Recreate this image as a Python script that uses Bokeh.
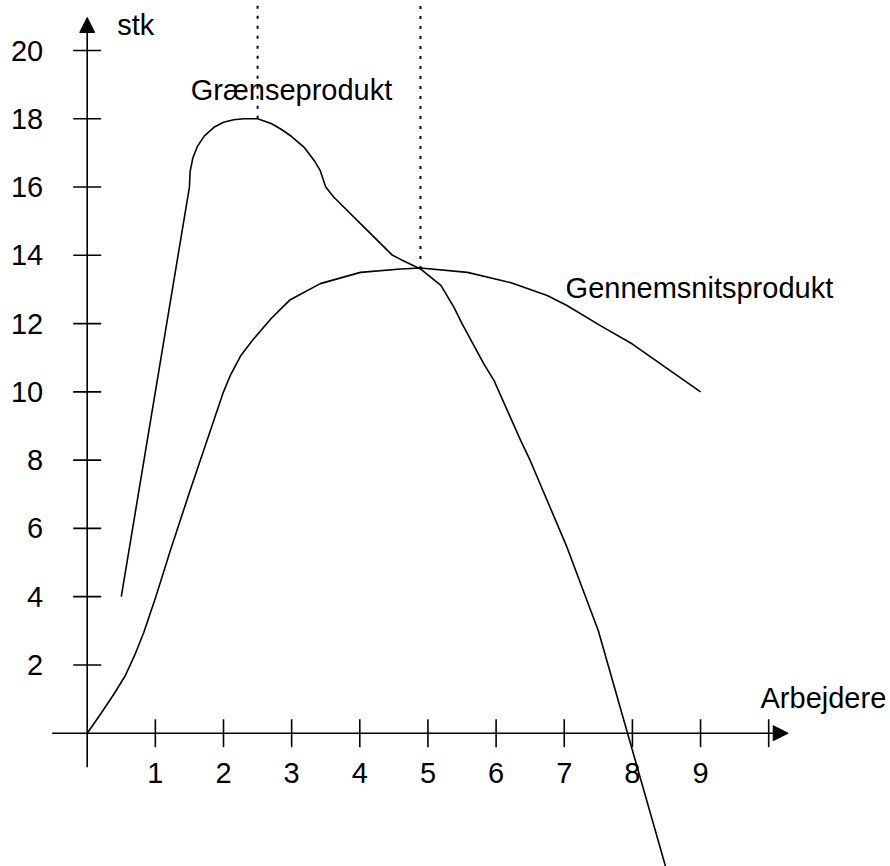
import math
from bokeh.plotting import figure
from bokeh.models import Range1d, Arrow, NormalHead
from bokeh.embed import file_html
from bokeh.resources import INLINE
from bokeh.core.properties import value

# ---------------- data ----------------
# Grænseprodukt (marginal product)
mp_x = [0.5, 1.5, 1.51, 1.55, 1.62, 1.72, 1.86, 2.0, 2.15, 2.3, 2.5, 2.7, 2.84, 3.0, 3.18, 3.33, 3.42,
        3.5, 3.62, 4.11, 4.48, 4.6, 4.89, 5.19, 5.38, 5.5, 5.82, 5.97, 6.36, 6.5, 7.04, 7.5, 8.5]
mp_y = [4.0, 16.0, 16.45, 16.85, 17.2, 17.5, 17.75, 17.9, 17.97, 18.0, 18.0, 17.86, 17.7, 17.48, 17.17, 16.78, 16.48,
        16.0, 15.7, 14.73, 14.0, 13.88, 13.6, 13.12, 12.48, 12.0, 10.82, 10.33, 8.58, 7.99, 5.45, 3.0, -4.0]

# Gennemsnitsprodukt (average product)
ap_x = [0.0, 0.2, 0.4, 0.56, 0.7, 0.83, 1.0, 1.22, 1.5, 2.0, 2.1, 2.25, 2.42, 2.7, 2.98, 3.42, 4.01,
        4.6, 4.89, 5.58, 6.21, 6.75, 7.04, 7.53, 8.0, 9.0]
ap_y = [0.0, 0.57, 1.17, 1.69, 2.3, 2.95, 3.95, 5.35, 7.05, 10.0, 10.48, 11.05, 11.5, 12.15, 12.7, 13.17, 13.5,
        13.6, 13.63, 13.5, 13.2, 12.82, 12.53, 11.94, 11.4, 10.0]

# dotted guide lines (x position, bottom, top)
drop_x = [2.5, 4.89]
drop_y0 = [18.0, 13.6]
drop_y1 = [21.5, 21.3]

# ticks
x_ticks = [1, 2, 3, 4, 5, 6, 7, 8, 9, 10]
x_tick_labels = ["1", "2", "3", "4", "5", "6", "7", "8", "9", ""]
y_ticks = [2, 4, 6, 8, 10, 12, 14, 16, 18, 20]
y_tick_labels = ["2", "4", "6", "8", "10", "12", "14", "16", "18", "20"]

# axis extents
x_axis_from, x_axis_to = -0.514, 10.286
y_axis_from, y_axis_to = -0.996, 20.967

# ---------------- layout ----------------
W, H = 890, 866
PX_X = 68.15      # pixels per x unit
PX_Y = 34.135     # pixels per y unit
ORIGIN_X = 86.7   # frame pixel of x = 0
ORIGIN_Y = 732.7  # frame pixel (from top) of y = 0

x0 = -ORIGIN_X / PX_X
y1 = ORIGIN_Y / PX_Y
p = figure(width=W, height=H, output_backend="svg", toolbar_location=None,
           x_range=Range1d(x0, x0 + W / PX_X), y_range=Range1d(y1 - H / PX_Y, y1),
           min_border=0, tools="")
p.xaxis.visible = False
p.yaxis.visible = False
p.grid.visible = False
p.outline_line_color = None
p.background_fill_color = "white"
p.border_fill_color = "white"

FONT = value("Liberation Sans")
FS = "29px"
LW = 1.6
TXT_DY = -10  # pixel shift applied to all texts

# axes with arrows
p.add_layout(Arrow(end=NormalHead(size=15, fill_color="black", line_color="black", line_width=1),
                   x_start=x_axis_from, y_start=0, x_end=x_axis_to, y_end=0,
                   line_width=LW, line_color="black"))
p.add_layout(Arrow(end=NormalHead(size=15, fill_color="black", line_color="black", line_width=1),
                   x_start=0, y_start=y_axis_from, x_end=0, y_end=y_axis_to,
                   line_width=LW, line_color="black"))

# tick marks
p.scatter(x=x_ticks, y=[0] * len(x_ticks), marker="dash", size=28, angle=math.pi / 2,
          line_color="black", line_width=LW)
p.scatter(x=[0] * len(y_ticks), y=y_ticks, marker="dash", size=28,
          line_color="black", line_width=LW)

# tick labels
p.text(x=x_ticks, y=[0] * len(x_ticks), text=x_tick_labels, text_align="center",
       text_baseline="alphabetic", y_offset=50 + TXT_DY, text_font=FONT, text_font_size=FS,
       text_color="black")
p.text(x=[0] * len(y_ticks), y=y_ticks, text=y_tick_labels, text_align="right",
       text_baseline="alphabetic", x_offset=-44, y_offset=10 + TXT_DY, text_font=FONT,
       text_font_size=FS, text_color="black")

# curves
p.line(mp_x, mp_y, line_color="black", line_width=LW)
p.line(ap_x, ap_y, line_color="black", line_width=LW)

# dotted guides
p.segment(x0=drop_x, y0=drop_y0, x1=drop_x, y1=drop_y1, line_color="black",
          line_width=2, line_dash="3 7")

# annotations
for tx, ty, label in [(0.44, 20.45, "stk"), (1.52, 18.556, "Grænseprodukt"),
                      (7.02, 12.755, "Gennemsnitsprodukt"), (9.88, 0.744, "Arbejdere")]:
    p.text(x=[tx], y=[ty], text=[label], text_font=FONT, text_font_size=FS,
           text_baseline="alphabetic", y_offset=TXT_DY, text_color="black")

open("out.html", "w").write(file_html(p, INLINE))
